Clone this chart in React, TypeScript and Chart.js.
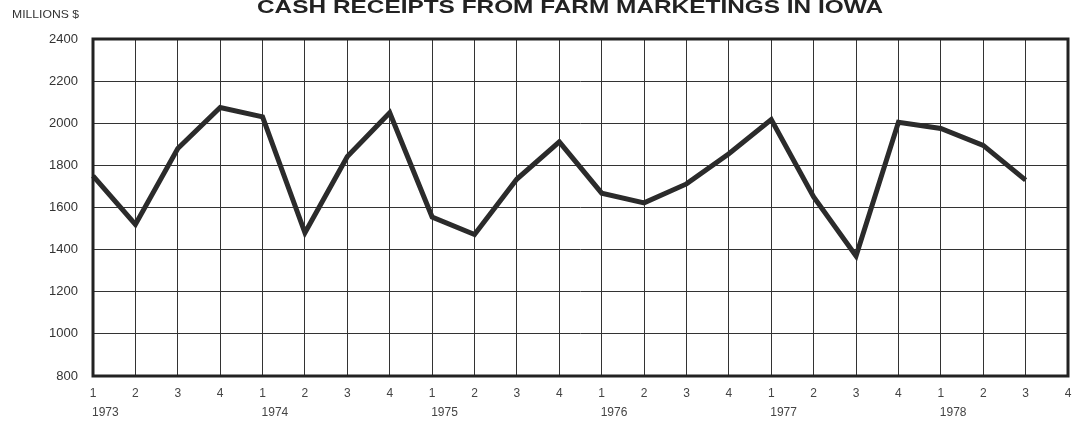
import React, { useEffect, useRef } from "react";
import { Chart, registerables } from "chart.js";

Chart.register(...registerables);

const titleText = "CASH RECEIPTS FROM FARM MARKETINGS IN IOWA";
const unitText = "MILLIONS $";
const quarterLabels = [
  "1", "2", "3", "4",
  "1", "2", "3", "4",
  "1", "2", "3", "4",
  "1", "2", "3", "4",
  "1", "2", "3", "4",
  "1", "2", "3", "4",
];
const yearLabels = ["1973", "1974", "1975", "1976", "1977", "1978"];
const receipts = [
  1750, 1520, 1880, 2075,
  2030, 1480, 1842, 2050,
  1555, 1472, 1735, 1912,
  1668, 1622, 1712, 1855,
  2018, 1650, 1370, 2005,
  1975, 1895, 1730, null,
];
const yMin = 800;
const yMax = 2400;
const yStep = 200;

const decorPlugin = {
  id: "decor",
  afterDatasetsDraw(chart: any) {
    const { ctx, chartArea, scales } = chart;
    ctx.save();
    ctx.strokeStyle = "#222";
    ctx.lineWidth = 3;
    ctx.strokeRect(chartArea.left, chartArea.top, chartArea.right - chartArea.left, chartArea.bottom - chartArea.top);
    ctx.fillStyle = "#222";
    ctx.font = "bold 19px 'Liberation Sans', Arial, sans-serif";
    ctx.textBaseline = "alphabetic";
    ctx.textAlign = "left";
    const tw = ctx.measureText(titleText).width;
    ctx.save();
    ctx.translate(257, 13);
    ctx.scale(626 / tw, 1);
    ctx.fillText(titleText, 0, 0);
    ctx.restore();
    ctx.font = "10.5px 'Liberation Sans', Arial, sans-serif";
    ctx.fillStyle = "#333";
    const uw = ctx.measureText(unitText).width;
    ctx.save();
    ctx.translate(12, 18);
    ctx.scale(67 / uw, 1);
    ctx.fillText(unitText, 0, 0);
    ctx.restore();
    ctx.font = "12px 'Liberation Sans', Arial, sans-serif";
    ctx.fillStyle = "#444";
    ctx.textBaseline = "middle";
    const x = scales.x;
    yearLabels.forEach((yr, i) => {
      const px = x.getPixelForValue(i * 4);
      ctx.fillText(yr, px - 1, 413);
    });
    ctx.restore();
  },
};

export default function App() {
  const ref = useRef<HTMLCanvasElement | null>(null);
  useEffect(() => {
    if (!ref.current) return;
    const chart = new Chart(ref.current, {
      type: "line",
      data: {
        labels: quarterLabels,
        datasets: [
          {
            data: receipts,
            borderColor: "#2b2b2b",
            borderWidth: 5,
            pointRadius: 0,
            tension: 0,
            borderJoinStyle: "miter",
            borderCapStyle: "butt",
            spanGaps: false,
          },
        ],
      },
      options: {
        animation: false,
        responsive: true,
        maintainAspectRatio: false,
        layout: { padding: { left: 0, right: 5, top: 39, bottom: 0 } },
        plugins: {
          legend: { display: false },
          title: { display: false },
          tooltip: { enabled: false },
        },
        scales: {
          x: {
            type: "category",
            offset: false,
            afterFit: (s: any) => {
              s.height = 45;
              s.paddingLeft = 0;
              s.paddingRight = 0;
            },
            grid: { color: "#333", lineWidth: 1, drawTicks: false },
            border: { display: false },
            ticks: {
              padding: 10,
              autoSkip: false,
              maxRotation: 0,
              color: "#444",
              font: { size: 12, family: "'Liberation Sans', Arial, sans-serif" },
            },
          },
          y: {
            min: yMin,
            max: yMax,
            afterFit: (s: any) => {
              s.width = 93;
              s.paddingTop = 0;
              s.paddingBottom = 0;
            },
            grid: { color: "#333", lineWidth: 1, drawTicks: false },
            border: { display: false },
            ticks: {
              stepSize: yStep,
              padding: 15,
              color: "#333",
              font: { size: 13, family: "'Liberation Sans', Arial, sans-serif" },
              callback: (v: any) => String(v),
            },
          },
        },
      },
      plugins: [decorPlugin],
    });
    return () => chart.destroy();
  }, []);
  return (
    <div style={{ position: "absolute", left: 0, top: 0, width: 1073, height: 421, background: "#fff" }}>
      <canvas ref={ref} />
    </div>
  );
}
